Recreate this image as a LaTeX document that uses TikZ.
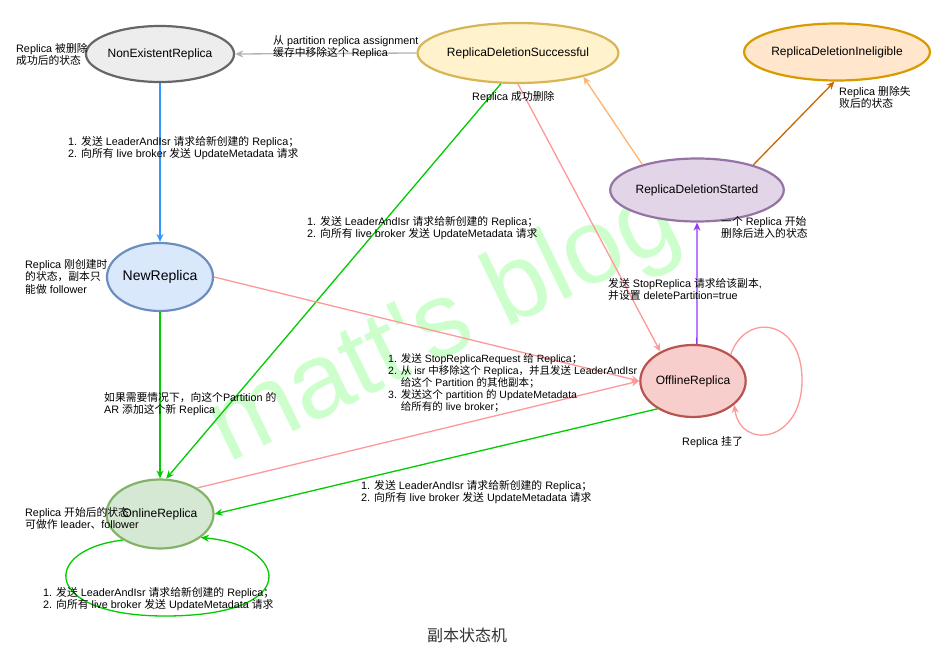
\documentclass[tikz,border=0pt]{standalone}
\usepackage{fontspec}
\setmainfont{Liberation Sans}
\newfontfamily\cjkfont{Noto Sans CJK SC}
\newfontfamily\markfont{Liberation Sans}[Ligatures=TeXOff]
\usetikzlibrary{shapes.geometric,arrows.meta}

% switch to the CJK font for Chinese characters
\XeTeXinterchartokenstate=1
\chardef\cjkclass=10
\newcount\cjkcnt
\cjkcnt="2E80
\loop \XeTeXcharclass\cjkcnt=\cjkclass \advance\cjkcnt by 1 \ifnum\cjkcnt<"A000 \repeat
\cjkcnt="FF00
\loop \XeTeXcharclass\cjkcnt=\cjkclass \advance\cjkcnt by 1 \ifnum\cjkcnt<"FFF0 \repeat
\XeTeXinterchartoks 0 \cjkclass={\begingroup\cjkfont}
\XeTeXinterchartoks 4095 \cjkclass={\begingroup\cjkfont}
\XeTeXinterchartoks \cjkclass 0={\endgroup}
\XeTeXinterchartoks \cjkclass 4095={\endgroup}

\definecolor{grayline}{HTML}{B3B3B3}
\definecolor{blueline}{HTML}{3399FF}
\definecolor{greenline}{HTML}{00CC00}
\definecolor{pinkline}{HTML}{FF9999}
\definecolor{orangeline}{HTML}{FFB570}
\definecolor{darkorange}{HTML}{CC6600}
\definecolor{purpleline}{HTML}{9933FF}
\definecolor{watermark}{HTML}{CCFFCC}

\begin{document}
\begin{tikzpicture}[x=1pt, y=-1pt,
        state/.style={ellipse, draw, line width=2.2pt, inner sep=0pt, font=\fontsize{12}{14}\selectfont},
        note/.style={anchor=north west, inner sep=0pt, align=left, font=\fontsize{10.8}{12.6}\selectfont},
        link/.style={line width=1.3pt, -{Stealth[length=8pt,width=7pt,inset=2.5pt]}}]

        \fill[white] (0,0) rectangle (948,652);
        \useasboundingbox (0,0) rectangle (948,652);

        % Watermark
        \node[anchor=base west, rotate=26, inner sep=0pt, text=watermark, font=\markfont\fontsize{106}{106}\selectfont] (mark) at (228,464) {matt's blog};

        % Nodes
        \node[state, fill=black!7, draw=black!60, minimum width=134pt, minimum height=56pt] (nonexist) at (160,54) {NonExistentReplica};
        \node[state, fill={rgb,255:red,255;green,242;blue,204}, draw={rgb,255:red,214;green,182;blue,86}, minimum width=160pt, minimum height=60pt] (delsucc) at (518,53) {ReplicaDeletionSuccessful};
        \node[state, fill={rgb,255:red,255;green,230;blue,204}, draw={rgb,255:red,215;green,155;blue,0}, minimum width=151pt, minimum height=57pt] (delinel) at (837,52) {ReplicaDeletionIneligible};
        \node[state, fill={rgb,255:red,225;green,213;blue,231}, draw={rgb,255:red,150;green,115;blue,166}, minimum width=142pt, minimum height=63pt] (delstart) at (697,190) {ReplicaDeletionStarted};
        \node[state, fill={rgb,255:red,218;green,232;blue,252}, draw={rgb,255:red,108;green,142;blue,191}, minimum width=106pt, minimum height=68pt, font=\fontsize{14}{16}\selectfont] (newrep) at (160,277) {NewReplica};
        \node[state, fill={rgb,255:red,248;green,206;blue,204}, draw={rgb,255:red,184;green,84;blue,80}, minimum width=100pt, minimum height=72pt] (offline) at (693,381) {OfflineReplica};
        \node[state, fill={rgb,255:red,213;green,232;blue,212}, draw={rgb,255:red,130;green,179;blue,102}, minimum width=107pt, minimum height=69pt] (online) at (160,514) {OnlineReplica};

        % Edges
        \draw[link, grayline] (delsucc.west) -- (nonexist.east);
        \draw[link, blueline] (nonexist) -- (newrep);
        \draw[link, greenline] (newrep) -- (online);
        \draw[link, greenline] (delsucc.241) -- (online.80);
        \draw[link, pinkline] (delsucc.270) -- (offline.138);
        \draw[link, orangeline] (delstart.155) -- (delsucc.340);
        \draw[link, darkorange] (delstart.24) -- (delinel.265);
        \draw[link, purpleline] (offline.84) -- (delstart.south);
        \draw[link, pinkline] (newrep.east) -- (offline.180);
        \draw[link, pinkline] (online.35) -- (offline.180);
        \draw[link, greenline] (offline.218) -- (online.east);
        \draw[link, pinkline] (offline.35) .. controls (745,312) and (802,318) .. (802,380) .. controls (802,444) and (740,450) .. (offline.330);
        \draw[link, greenline] (online.215) .. controls (40,550) and (42,616) .. (165,616) .. controls (305,616) and (288,545) .. (online.330);

        % Labels
        \node[note] (n1) at (16,43) {Replica 被删除\\成功后的状态};
        \node[note] (n2) at (273,35) {从 partition replica assignment\\缓存中移除这个 Replica};
        \node[note] (n3) at (472,91) {Replica 成功删除};
        \node[note] (n4) at (839,86) {Replica 删除失\\败后的状态};
        \node[note] (n5) at (721,216) {一个 Replica 开始\\删除后进入的状态};
        \node[note] (n6) at (68,136) {1. 发送 LeaderAndIsr 请求给新创建的 Replica；\\2. 向所有 live broker 发送 UpdateMetadata 请求};
        \node[note] (n7) at (25,259) {Replica 刚创建时\\的状态，副本只\\能做 follower};
        \node[note] (n8) at (104,392) {如果需要情况下，向这个Partition 的\\AR 添加这个新 Replica};
        \node[note] (n9) at (307,216) {1. 发送 LeaderAndIsr 请求给新创建的 Replica；\\2. 向所有 live broker 发送 UpdateMetadata 请求};
        \node[note] (n10) at (608,278) {发送 StopReplica 请求给该副本,\\并设置 deletePartition=true};
        \node[note, font=\fontsize{10.5}{12.2}\selectfont] (n11) at (388,353) {1. 发送 StopReplicaRequest 给 Replica；\\2. 从 isr 中移除这个 Replica，并且发送 LeaderAndIsr\\\hphantom{1. }给这个 Partition 的其他副本；\\3. 发送这个 partition 的 UpdateMetadata\\\hphantom{1. }给所有的 live broker；};
        \node[note] (n12) at (682,436) {Replica 挂了};
        \node[note] (n13) at (361,480) {1. 发送 LeaderAndIsr 请求给新创建的 Replica；\\2. 向所有 live broker 发送 UpdateMetadata 请求};
        \node[note] (n14) at (25,507) {Replica 开始后的状态\\可做作 leader、follower};
        \node[note] (n15) at (43,587) {1. 发送 LeaderAndIsr 请求给新创建的 Replica；\\2. 向所有 live broker 发送 UpdateMetadata 请求};

        % Caption
        \node[inner sep=0pt, text=black!80, font=\fontsize{16}{18}\selectfont] (caption) at (467,635) {副本状态机};

\end{tikzpicture}
\end{document}
